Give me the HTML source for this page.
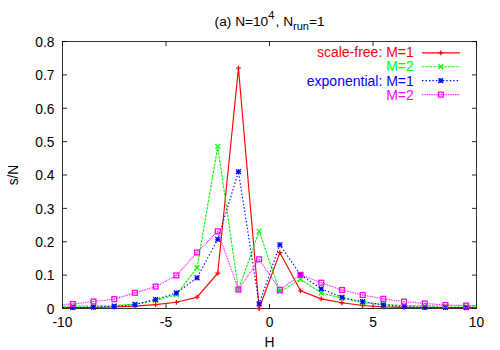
<!DOCTYPE html>
<html><head><meta charset="utf-8"><title>plot</title>
<style>
html,body{margin:0;padding:0;background:#fff;}
body{width:500px;height:350px;position:relative;overflow:hidden;font-family:"Liberation Sans",sans-serif;font-size:13.8px;color:#000;}
div{position:absolute;line-height:16px;white-space:nowrap;}
.yl{right:445.6px;text-align:right;}
.xl{width:60px;text-align:center;top:315.3px;}
.lg{right:86.19999999999999px;text-align:right;font-size:14px;}
.ttl{left:214.6px;text-align:left;top:13.7px;font-size:13.7px;}
.ttl sup{font-size:11px;vertical-align:baseline;position:relative;top:-7px;margin-right:1.2px;}
.ttl sub{font-size:11px;vertical-align:baseline;position:relative;top:4px;}
.xt{left:239.5px;width:60px;text-align:center;top:335px;}
.yt{left:-16.4px;top:167.4px;width:60px;text-align:center;transform:rotate(-90deg);}
</style></head><body>
<svg width="500" height="350" viewBox="0 0 500 350" style="position:absolute;left:0;top:0">
<defs><clipPath id="cp"><rect x="62.5" y="36.5" width="414.0" height="273.0"/></clipPath></defs>
<path d="M62.5 308.50h4.5M476.5 308.50h-4.5M62.5 275.12h4.5M476.5 275.12h-4.5M62.5 241.75h4.5M476.5 241.75h-4.5M62.5 208.38h4.5M476.5 208.38h-4.5M62.5 175.00h4.5M476.5 175.00h-4.5M62.5 141.62h4.5M476.5 141.62h-4.5M62.5 108.25h4.5M476.5 108.25h-4.5M62.5 74.88h4.5M476.5 74.88h-4.5M62.5 41.50h4.5M476.5 41.50h-4.5M62.50 308.5v-4.5M62.50 41.5v4.5M166.00 308.5v-4.5M166.00 41.5v4.5M269.50 308.5v-4.5M269.50 41.5v4.5M373.00 308.5v-4.5M373.00 41.5v4.5M476.50 308.5v-4.5M476.50 41.5v4.5" stroke="#000" stroke-width="0.85" fill="none"/>
<rect x="62.5" y="41.5" width="414.0" height="267.0" fill="none" stroke="#000" stroke-width="0.8"/>
<polyline clip-path="url(#cp)" points="52.15,307.79 72.85,307.67 93.55,307.50 114.25,307.00 134.95,306.16 155.65,304.60 176.35,302.29 197.05,297.22 217.75,273.19 238.45,68.10 259.15,308.50 279.85,252.60 300.55,290.81 321.25,298.82 341.95,302.76 362.65,305.50 383.35,306.83 404.05,307.33 424.75,307.50 445.45,307.67 466.15,307.67 486.85,307.75" fill="none" stroke="#ff0000" stroke-width="1.15" />
<path d="M70.45 307.67H75.25M72.85 305.27V310.07" stroke="#ff0000" stroke-width="1.3" fill="none"/>
<path d="M91.15 307.50H95.95M93.55 305.10V309.90" stroke="#ff0000" stroke-width="1.3" fill="none"/>
<path d="M111.85 307.00H116.65M114.25 304.60V309.40" stroke="#ff0000" stroke-width="1.3" fill="none"/>
<path d="M132.55 306.16H137.35M134.95 303.76V308.56" stroke="#ff0000" stroke-width="1.3" fill="none"/>
<path d="M153.25 304.60H158.05M155.65 302.20V307.00" stroke="#ff0000" stroke-width="1.3" fill="none"/>
<path d="M173.95 302.29H178.75M176.35 299.89V304.69" stroke="#ff0000" stroke-width="1.3" fill="none"/>
<path d="M194.65 297.22H199.45M197.05 294.82V299.62" stroke="#ff0000" stroke-width="1.3" fill="none"/>
<path d="M215.35 273.19H220.15M217.75 270.79V275.59" stroke="#ff0000" stroke-width="1.3" fill="none"/>
<path d="M236.05 68.10H240.85M238.45 65.70V70.50" stroke="#ff0000" stroke-width="1.3" fill="none"/>
<path d="M256.75 308.50H261.55M259.15 306.10V310.90" stroke="#ff0000" stroke-width="1.3" fill="none"/>
<path d="M277.45 252.60H282.25M279.85 250.20V255.00" stroke="#ff0000" stroke-width="1.3" fill="none"/>
<path d="M298.15 290.81H302.95M300.55 288.41V293.21" stroke="#ff0000" stroke-width="1.3" fill="none"/>
<path d="M318.85 298.82H323.65M321.25 296.42V301.22" stroke="#ff0000" stroke-width="1.3" fill="none"/>
<path d="M339.55 302.76H344.35M341.95 300.36V305.16" stroke="#ff0000" stroke-width="1.3" fill="none"/>
<path d="M360.25 305.50H365.05M362.65 303.10V307.90" stroke="#ff0000" stroke-width="1.3" fill="none"/>
<path d="M380.95 306.83H385.75M383.35 304.43V309.23" stroke="#ff0000" stroke-width="1.3" fill="none"/>
<path d="M401.65 307.33H406.45M404.05 304.93V309.73" stroke="#ff0000" stroke-width="1.3" fill="none"/>
<path d="M422.35 307.50H427.15M424.75 305.10V309.90" stroke="#ff0000" stroke-width="1.3" fill="none"/>
<path d="M443.05 307.67H447.85M445.45 305.27V310.07" stroke="#ff0000" stroke-width="1.3" fill="none"/>
<path d="M463.75 307.67H468.55M466.15 305.27V310.07" stroke="#ff0000" stroke-width="1.3" fill="none"/>
<polyline clip-path="url(#cp)" points="52.15,306.37 72.85,306.00 93.55,306.00 114.25,305.66 134.95,304.16 155.65,300.32 176.35,294.75 197.05,267.62 217.75,146.50 238.45,289.98 259.15,231.24 279.85,291.65 300.55,279.30 321.25,292.98 341.95,298.15 362.65,302.49 383.35,304.50 404.05,305.50 424.75,305.90 445.45,306.00 466.15,306.00 486.85,306.25" fill="none" stroke="#00ff00" stroke-width="1.15" stroke-dasharray="2.6 1.1"/>
<path d="M70.45 303.60L75.25 308.40M70.45 308.40L75.25 303.60" stroke="#00ff00" stroke-width="1.3" fill="none"/>
<path d="M91.15 303.60L95.95 308.40M91.15 308.40L95.95 303.60" stroke="#00ff00" stroke-width="1.3" fill="none"/>
<path d="M111.85 303.26L116.65 308.06M111.85 308.06L116.65 303.26" stroke="#00ff00" stroke-width="1.3" fill="none"/>
<path d="M132.55 301.76L137.35 306.56M132.55 306.56L137.35 301.76" stroke="#00ff00" stroke-width="1.3" fill="none"/>
<path d="M153.25 297.92L158.05 302.72M153.25 302.72L158.05 297.92" stroke="#00ff00" stroke-width="1.3" fill="none"/>
<path d="M173.95 292.35L178.75 297.15M173.95 297.15L178.75 292.35" stroke="#00ff00" stroke-width="1.3" fill="none"/>
<path d="M194.65 265.22L199.45 270.02M194.65 270.02L199.45 265.22" stroke="#00ff00" stroke-width="1.3" fill="none"/>
<path d="M215.35 144.10L220.15 148.90M215.35 148.90L220.15 144.10" stroke="#00ff00" stroke-width="1.3" fill="none"/>
<path d="M236.05 287.58L240.85 292.38M236.05 292.38L240.85 287.58" stroke="#00ff00" stroke-width="1.3" fill="none"/>
<path d="M256.75 228.84L261.55 233.64M256.75 233.64L261.55 228.84" stroke="#00ff00" stroke-width="1.3" fill="none"/>
<path d="M277.45 289.25L282.25 294.05M277.45 294.05L282.25 289.25" stroke="#00ff00" stroke-width="1.3" fill="none"/>
<path d="M298.15 276.90L302.95 281.70M298.15 281.70L302.95 276.90" stroke="#00ff00" stroke-width="1.3" fill="none"/>
<path d="M318.85 290.58L323.65 295.38M318.85 295.38L323.65 290.58" stroke="#00ff00" stroke-width="1.3" fill="none"/>
<path d="M339.55 295.75L344.35 300.55M339.55 300.55L344.35 295.75" stroke="#00ff00" stroke-width="1.3" fill="none"/>
<path d="M360.25 300.09L365.05 304.89M360.25 304.89L365.05 300.09" stroke="#00ff00" stroke-width="1.3" fill="none"/>
<path d="M380.95 302.10L385.75 306.89M380.95 306.89L385.75 302.10" stroke="#00ff00" stroke-width="1.3" fill="none"/>
<path d="M401.65 303.10L406.45 307.90M401.65 307.90L406.45 303.10" stroke="#00ff00" stroke-width="1.3" fill="none"/>
<path d="M422.35 303.50L427.15 308.30M422.35 308.30L427.15 303.50" stroke="#00ff00" stroke-width="1.3" fill="none"/>
<path d="M443.05 303.60L447.85 308.40M443.05 308.40L447.85 303.60" stroke="#00ff00" stroke-width="1.3" fill="none"/>
<path d="M463.75 303.60L468.55 308.40M463.75 308.40L468.55 303.60" stroke="#00ff00" stroke-width="1.3" fill="none"/>
<polyline clip-path="url(#cp)" points="52.15,307.65 72.85,307.50 93.55,307.17 114.25,306.33 134.95,304.60 155.65,299.49 176.35,292.98 197.05,277.80 217.75,239.31 238.45,171.73 259.15,303.83 279.85,244.75 300.55,274.79 321.25,288.81 341.95,297.39 362.65,301.69 383.35,304.93 404.05,306.50 424.75,307.33 445.45,307.50 466.15,307.67 486.85,307.75" fill="none" stroke="#0000ff" stroke-width="1.15" stroke-dasharray="1.4 2.07"/>
<path d="M70.45 307.50H75.25M72.85 305.10V309.90" stroke="#0000ff" stroke-width="1.3" fill="none"/><path d="M70.45 305.10L75.25 309.90M70.45 309.90L75.25 305.10" stroke="#0000ff" stroke-width="1.3" fill="none"/>
<path d="M91.15 307.17H95.95M93.55 304.77V309.56" stroke="#0000ff" stroke-width="1.3" fill="none"/><path d="M91.15 304.77L95.95 309.56M91.15 309.56L95.95 304.77" stroke="#0000ff" stroke-width="1.3" fill="none"/>
<path d="M111.85 306.33H116.65M114.25 303.93V308.73" stroke="#0000ff" stroke-width="1.3" fill="none"/><path d="M111.85 303.93L116.65 308.73M111.85 308.73L116.65 303.93" stroke="#0000ff" stroke-width="1.3" fill="none"/>
<path d="M132.55 304.60H137.35M134.95 302.20V307.00" stroke="#0000ff" stroke-width="1.3" fill="none"/><path d="M132.55 302.20L137.35 307.00M132.55 307.00L137.35 302.20" stroke="#0000ff" stroke-width="1.3" fill="none"/>
<path d="M153.25 299.49H158.05M155.65 297.09V301.89" stroke="#0000ff" stroke-width="1.3" fill="none"/><path d="M153.25 297.09L158.05 301.89M153.25 301.89L158.05 297.09" stroke="#0000ff" stroke-width="1.3" fill="none"/>
<path d="M173.95 292.98H178.75M176.35 290.58V295.38" stroke="#0000ff" stroke-width="1.3" fill="none"/><path d="M173.95 290.58L178.75 295.38M173.95 295.38L178.75 290.58" stroke="#0000ff" stroke-width="1.3" fill="none"/>
<path d="M194.65 277.80H199.45M197.05 275.40V280.19" stroke="#0000ff" stroke-width="1.3" fill="none"/><path d="M194.65 275.40L199.45 280.19M194.65 280.19L199.45 275.40" stroke="#0000ff" stroke-width="1.3" fill="none"/>
<path d="M215.35 239.31H220.15M217.75 236.91V241.71" stroke="#0000ff" stroke-width="1.3" fill="none"/><path d="M215.35 236.91L220.15 241.71M215.35 241.71L220.15 236.91" stroke="#0000ff" stroke-width="1.3" fill="none"/>
<path d="M236.05 171.73H240.85M238.45 169.33V174.13" stroke="#0000ff" stroke-width="1.3" fill="none"/><path d="M236.05 169.33L240.85 174.13M236.05 174.13L240.85 169.33" stroke="#0000ff" stroke-width="1.3" fill="none"/>
<path d="M256.75 303.83H261.55M259.15 301.43V306.23" stroke="#0000ff" stroke-width="1.3" fill="none"/><path d="M256.75 301.43L261.55 306.23M256.75 306.23L261.55 301.43" stroke="#0000ff" stroke-width="1.3" fill="none"/>
<path d="M277.45 244.75H282.25M279.85 242.35V247.15" stroke="#0000ff" stroke-width="1.3" fill="none"/><path d="M277.45 242.35L282.25 247.15M277.45 247.15L282.25 242.35" stroke="#0000ff" stroke-width="1.3" fill="none"/>
<path d="M298.15 274.79H302.95M300.55 272.39V277.19" stroke="#0000ff" stroke-width="1.3" fill="none"/><path d="M298.15 272.39L302.95 277.19M298.15 277.19L302.95 272.39" stroke="#0000ff" stroke-width="1.3" fill="none"/>
<path d="M318.85 288.81H323.65M321.25 286.41V291.21" stroke="#0000ff" stroke-width="1.3" fill="none"/><path d="M318.85 286.41L323.65 291.21M318.85 291.21L323.65 286.41" stroke="#0000ff" stroke-width="1.3" fill="none"/>
<path d="M339.55 297.39H344.35M341.95 294.99V299.79" stroke="#0000ff" stroke-width="1.3" fill="none"/><path d="M339.55 294.99L344.35 299.79M339.55 299.79L344.35 294.99" stroke="#0000ff" stroke-width="1.3" fill="none"/>
<path d="M360.25 301.69H365.05M362.65 299.29V304.09" stroke="#0000ff" stroke-width="1.3" fill="none"/><path d="M360.25 299.29L365.05 304.09M360.25 304.09L365.05 299.29" stroke="#0000ff" stroke-width="1.3" fill="none"/>
<path d="M380.95 304.93H385.75M383.35 302.53V307.33" stroke="#0000ff" stroke-width="1.3" fill="none"/><path d="M380.95 302.53L385.75 307.33M380.95 307.33L385.75 302.53" stroke="#0000ff" stroke-width="1.3" fill="none"/>
<path d="M401.65 306.50H406.45M404.05 304.10V308.90" stroke="#0000ff" stroke-width="1.3" fill="none"/><path d="M401.65 304.10L406.45 308.90M401.65 308.90L406.45 304.10" stroke="#0000ff" stroke-width="1.3" fill="none"/>
<path d="M422.35 307.33H427.15M424.75 304.93V309.73" stroke="#0000ff" stroke-width="1.3" fill="none"/><path d="M422.35 304.93L427.15 309.73M422.35 309.73L427.15 304.93" stroke="#0000ff" stroke-width="1.3" fill="none"/>
<path d="M443.05 307.50H447.85M445.45 305.10V309.90" stroke="#0000ff" stroke-width="1.3" fill="none"/><path d="M443.05 305.10L447.85 309.90M443.05 309.90L447.85 305.10" stroke="#0000ff" stroke-width="1.3" fill="none"/>
<path d="M463.75 307.67H468.55M466.15 305.27V310.07" stroke="#0000ff" stroke-width="1.3" fill="none"/><path d="M463.75 305.27L468.55 310.07M463.75 310.07L468.55 305.27" stroke="#0000ff" stroke-width="1.3" fill="none"/>
<polyline clip-path="url(#cp)" points="52.15,304.67 72.85,303.99 93.55,301.49 114.25,299.15 134.95,292.81 155.65,286.57 176.35,275.46 197.05,252.43 217.75,231.30 238.45,289.48 259.15,259.27 279.85,289.81 300.55,274.79 321.25,282.70 341.95,289.98 362.65,294.98 383.35,298.82 404.05,301.66 424.75,303.43 445.45,305.00 466.15,305.50 486.85,305.80" fill="none" stroke="#ff00ff" stroke-width="1.15" stroke-dasharray="0.85 0.88"/>
<rect x="70.45" y="301.59" width="4.8" height="4.8" stroke="#ff00ff" stroke-width="1.3" fill="none"/><rect x="72.35" y="303.49" width="1" height="1" fill="#ff00ff"/>
<rect x="91.15" y="299.09" width="4.8" height="4.8" stroke="#ff00ff" stroke-width="1.3" fill="none"/><rect x="93.05" y="300.99" width="1" height="1" fill="#ff00ff"/>
<rect x="111.85" y="296.75" width="4.8" height="4.8" stroke="#ff00ff" stroke-width="1.3" fill="none"/><rect x="113.75" y="298.65" width="1" height="1" fill="#ff00ff"/>
<rect x="132.55" y="290.41" width="4.8" height="4.8" stroke="#ff00ff" stroke-width="1.3" fill="none"/><rect x="134.45" y="292.31" width="1" height="1" fill="#ff00ff"/>
<rect x="153.25" y="284.17" width="4.8" height="4.8" stroke="#ff00ff" stroke-width="1.3" fill="none"/><rect x="155.15" y="286.07" width="1" height="1" fill="#ff00ff"/>
<rect x="173.95" y="273.06" width="4.8" height="4.8" stroke="#ff00ff" stroke-width="1.3" fill="none"/><rect x="175.85" y="274.96" width="1" height="1" fill="#ff00ff"/>
<rect x="194.65" y="250.03" width="4.8" height="4.8" stroke="#ff00ff" stroke-width="1.3" fill="none"/><rect x="196.55" y="251.93" width="1" height="1" fill="#ff00ff"/>
<rect x="215.35" y="228.90" width="4.8" height="4.8" stroke="#ff00ff" stroke-width="1.3" fill="none"/><rect x="217.25" y="230.80" width="1" height="1" fill="#ff00ff"/>
<rect x="236.05" y="287.08" width="4.8" height="4.8" stroke="#ff00ff" stroke-width="1.3" fill="none"/><rect x="237.95" y="288.98" width="1" height="1" fill="#ff00ff"/>
<rect x="256.75" y="256.87" width="4.8" height="4.8" stroke="#ff00ff" stroke-width="1.3" fill="none"/><rect x="258.65" y="258.77" width="1" height="1" fill="#ff00ff"/>
<rect x="277.45" y="287.41" width="4.8" height="4.8" stroke="#ff00ff" stroke-width="1.3" fill="none"/><rect x="279.35" y="289.31" width="1" height="1" fill="#ff00ff"/>
<rect x="298.15" y="272.39" width="4.8" height="4.8" stroke="#ff00ff" stroke-width="1.3" fill="none"/><rect x="300.05" y="274.29" width="1" height="1" fill="#ff00ff"/>
<rect x="318.85" y="280.30" width="4.8" height="4.8" stroke="#ff00ff" stroke-width="1.3" fill="none"/><rect x="320.75" y="282.20" width="1" height="1" fill="#ff00ff"/>
<rect x="339.55" y="287.58" width="4.8" height="4.8" stroke="#ff00ff" stroke-width="1.3" fill="none"/><rect x="341.45" y="289.48" width="1" height="1" fill="#ff00ff"/>
<rect x="360.25" y="292.58" width="4.8" height="4.8" stroke="#ff00ff" stroke-width="1.3" fill="none"/><rect x="362.15" y="294.48" width="1" height="1" fill="#ff00ff"/>
<rect x="380.95" y="296.42" width="4.8" height="4.8" stroke="#ff00ff" stroke-width="1.3" fill="none"/><rect x="382.85" y="298.32" width="1" height="1" fill="#ff00ff"/>
<rect x="401.65" y="299.26" width="4.8" height="4.8" stroke="#ff00ff" stroke-width="1.3" fill="none"/><rect x="403.55" y="301.16" width="1" height="1" fill="#ff00ff"/>
<rect x="422.35" y="301.03" width="4.8" height="4.8" stroke="#ff00ff" stroke-width="1.3" fill="none"/><rect x="424.25" y="302.93" width="1" height="1" fill="#ff00ff"/>
<rect x="443.05" y="302.60" width="4.8" height="4.8" stroke="#ff00ff" stroke-width="1.3" fill="none"/><rect x="444.95" y="304.50" width="1" height="1" fill="#ff00ff"/>
<rect x="463.75" y="303.10" width="4.8" height="4.8" stroke="#ff00ff" stroke-width="1.3" fill="none"/><rect x="465.65" y="305.00" width="1" height="1" fill="#ff00ff"/>
<path d="M422 52.9H460" stroke="#ff0000" stroke-width="1.15" fill="none" />
<path d="M438.40 52.90H443.20M440.80 50.50V55.30" stroke="#ff0000" stroke-width="1.3" fill="none"/>
<path d="M422 66.7H460" stroke="#00ff00" stroke-width="1.15" fill="none" stroke-dasharray="2.6 1.1"/>
<path d="M438.40 64.30L443.20 69.10M438.40 69.10L443.20 64.30" stroke="#00ff00" stroke-width="1.3" fill="none"/>
<path d="M422 80.6H460" stroke="#0000ff" stroke-width="1.15" fill="none" stroke-dasharray="1.4 2.07"/>
<path d="M438.40 80.60H443.20M440.80 78.20V83.00" stroke="#0000ff" stroke-width="1.3" fill="none"/><path d="M438.40 78.20L443.20 83.00M438.40 83.00L443.20 78.20" stroke="#0000ff" stroke-width="1.3" fill="none"/>
<path d="M422 94.6H460" stroke="#ff00ff" stroke-width="1.15" fill="none" stroke-dasharray="0.85 0.88"/>
<rect x="438.40" y="92.20" width="4.8" height="4.8" stroke="#ff00ff" stroke-width="1.3" fill="none"/><rect x="440.30" y="94.10" width="1" height="1" fill="#ff00ff"/>
</svg>
<div class="ttl">(a) N=10<sup>4</sup>, N<sub>run</sub>=1</div>
<div class="yl" style="top:302px">0</div><div class="yl" style="top:268px">0.1</div><div class="yl" style="top:235px">0.2</div><div class="yl" style="top:202px">0.3</div><div class="yl" style="top:168px">0.4</div><div class="yl" style="top:135px">0.5</div><div class="yl" style="top:102px">0.6</div><div class="yl" style="top:68px">0.7</div><div class="yl" style="top:35px">0.8</div><div class="xl" style="left:32.5px">-10</div><div class="xl" style="left:136.0px">-5</div><div class="xl" style="left:239.5px">0</div><div class="xl" style="left:343.0px">5</div><div class="xl" style="left:446.5px">10</div><div class="lg" style="top:44px;color:#ff0000">scale-free: M=1</div><div class="lg" style="top:58px;color:#00ff00">M=2</div><div class="lg" style="top:73px;color:#0000ff">exponential: M=1</div><div class="lg" style="top:87px;color:#ff00ff">M=2</div>
<div class="xt">H</div>
<div class="yt">s/N</div>
</body></html>
